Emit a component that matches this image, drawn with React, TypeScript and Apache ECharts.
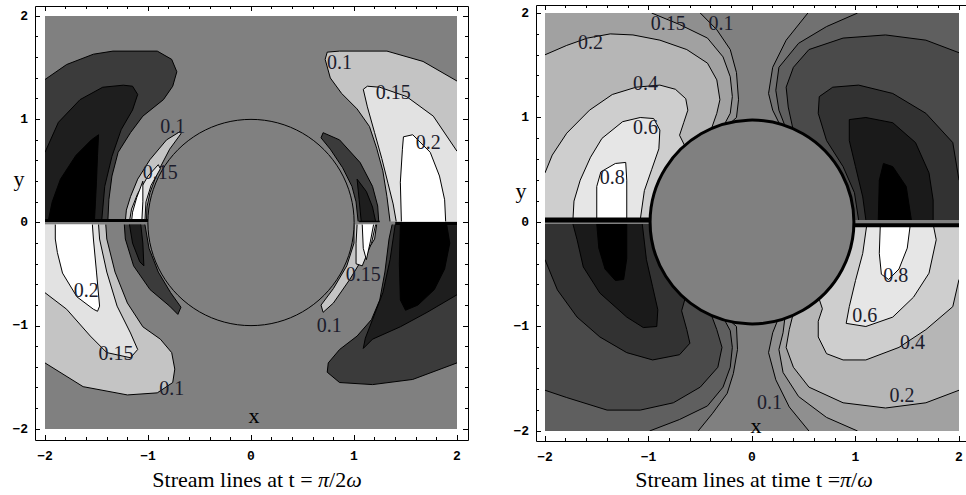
import React, { useEffect, useRef } from 'react';
import * as echarts from 'echarts';

type Pt = [number, number];

// ================= LEFT PANEL : t = pi / 2 omega =================
// regions are super-/sub-level sets (outer first, inner later)
const L_UL_m10: Pt[] = [[-2,1.385],[-1.79,1.53],[-1.53,1.63],[-1.34,1.66],[-0.91,1.66],[-0.77,1.58],[-0.72,1.46],[-0.76,1.32],[-0.85,1.19],[-1.05,1.03],[-1.17,0.87],[-1.29,0.68],[-1.35,0.45],[-1.38,0.22],[-1.39,0.01],[-2,0.01]];
const L_UL_m15: Pt[] = [[-2,0.68],[-1.87,0.97],[-1.66,1.19],[-1.44,1.31],[-1.24,1.33],[-1.15,1.32],[-1.10,1.24],[-1.15,1.09],[-1.26,0.90],[-1.35,0.64],[-1.42,0.35],[-1.45,0.01],[-2,0.01]];
const L_UL_m20: Pt[] = [[-1.97,0.01],[-1.93,0.2],[-1.85,0.42],[-1.70,0.65],[-1.55,0.80],[-1.48,0.85],[-1.49,0.65],[-1.50,0.40],[-1.51,0.20],[-1.52,0.01]];
const L_ULc_p10: Pt[] = [[-0.69,0.88],[-0.82,0.80],[-0.98,0.61],[-1.10,0.42],[-1.17,0.25],[-1.21,0.12],[-1.22,0.01],[-1.015,0.01],[-1.01,0.15],[-0.98,0.29],[-0.91,0.48],[-0.79,0.71],[-0.68,0.86]];
const L_ULc_p15: Pt[] = [[-0.90,0.56],[-1.0,0.45],[-1.10,0.28],[-1.16,0.13],[-1.18,0.01],[-1.03,0.01],[-1.02,0.2],[-0.97,0.36],[-0.88,0.52]];
const L_ULc_p20: Pt[] = [[-1.05,0.40],[-1.11,0.24],[-1.15,0.1],[-1.16,0.01],[-1.06,0.01],[-1.05,0.2]];
const L_URc_m10: Pt[] = [[0.70,0.87],[0.86,0.80],[1.06,0.58],[1.18,0.35],[1.23,0.16],[1.24,0.01],[1.04,0.01],[1.02,0.2],[0.98,0.35],[0.89,0.53],[0.77,0.71],[0.68,0.82]];
const L_URc_m15: Pt[] = [[1.03,0.42],[1.12,0.30],[1.18,0.15],[1.21,0.01],[1.07,0.01],[1.05,0.22]];
const L_UR_p10: Pt[] = [[0.72,1.58],[0.74,1.65],[0.86,1.66],[1.32,1.66],[1.67,1.56],[2,1.37],[2,0.01],[1.35,0.01],[1.32,0.25],[1.28,0.50],[1.22,0.72],[1.15,0.93],[1.03,1.10],[0.88,1.25],[0.77,1.40]];
const L_UR_p15: Pt[] = [[1.09,1.29],[1.13,1.32],[1.25,1.31],[1.51,1.22],[1.77,1.03],[2,0.69],[2,0.01],[1.41,0.01],[1.38,0.18],[1.33,0.38],[1.27,0.62],[1.20,0.87],[1.13,1.12]];
const L_UR_p20: Pt[] = [[1.47,0.71],[1.48,0.83],[1.57,0.85],[1.74,0.68],[1.83,0.45],[1.88,0.22],[1.89,0.01],[1.46,0.01],[1.45,0.39]];
const L_LL_p10: Pt[] = [[-2,-0.02],[-1.41,-0.02],[-1.40,-0.16],[-1.32,-0.48],[-1.20,-0.78],[-1.05,-1.01],[-0.88,-1.13],[-0.77,-1.26],[-0.74,-1.42],[-0.76,-1.55],[-0.91,-1.65],[-1.20,-1.67],[-1.63,-1.59],[-2,-1.36]];
const L_LL_p15: Pt[] = [[-2,-0.02],[-1.48,-0.02],[-1.47,-0.16],[-1.40,-0.48],[-1.30,-0.81],[-1.17,-1.07],[-1.10,-1.23],[-1.17,-1.31],[-1.40,-1.26],[-1.56,-1.10],[-1.79,-0.84],[-2,-0.68]];
const L_LL_p20: Pt[] = [[-1.90,-0.02],[-1.54,-0.02],[-1.53,-0.16],[-1.50,-0.48],[-1.47,-0.81],[-1.49,-0.86],[-1.53,-0.84],[-1.69,-0.72],[-1.83,-0.49],[-1.88,-0.29],[-1.90,-0.16]];
const L_LLc_m10: Pt[] = [[-1.23,-0.02],[-1.22,-0.16],[-1.14,-0.42],[-0.98,-0.65],[-0.79,-0.81],[-0.71,-0.89],[-0.68,-0.82],[-0.78,-0.68],[-0.90,-0.48],[-0.99,-0.25],[-1.03,-0.02]];
const L_LLc_m15: Pt[] = [[-1.18,-0.02],[-1.15,-0.2],[-1.08,-0.38],[-1.04,-0.42],[-1.05,-0.2],[-1.07,-0.02]];
const L_LR_m10: Pt[] = [[1.37,-0.02],[2,-0.02],[2,-1.36],[1.57,-1.52],[1.18,-1.57],[0.86,-1.55],[0.74,-1.45],[0.75,-1.36],[0.86,-1.23],[1.03,-1.10],[1.17,-0.94],[1.25,-0.75],[1.30,-0.48],[1.34,-0.16]];
const L_LR_m15: Pt[] = [[1.40,-0.02],[2,-0.02],[2,-0.70],[1.71,-0.87],[1.45,-1.01],[1.18,-1.13],[1.09,-1.22],[1.11,-1.12],[1.18,-0.94],[1.28,-0.68],[1.35,-0.36]];
const L_LR_m20: Pt[] = [[1.45,-0.02],[1.90,-0.02],[1.93,-0.2],[1.88,-0.45],[1.78,-0.65],[1.62,-0.80],[1.50,-0.85],[1.45,-0.75],[1.44,-0.4]];
const L_LRc_p10: Pt[] = [[1.0,-0.02],[1.22,-0.02],[1.20,-0.16],[1.10,-0.32],[0.96,-0.55],[0.80,-0.78],[0.70,-0.87],[0.68,-0.80],[0.80,-0.64],[0.93,-0.42],[1.0,-0.2]];
const L_LRc_p15: Pt[] = [[1.03,-0.02],[1.21,-0.02],[1.17,-0.2],[1.08,-0.42],[1.02,-0.40],[1.02,-0.2]];
const L_LRc_p20: Pt[] = [[1.08,-0.02],[1.19,-0.02],[1.16,-0.18],[1.12,-0.36],[1.09,-0.25]];

const leftCircle = [0, 0, 1];
const leftCuts: [Pt, Pt][] = [[[-2, 0.02], [-1.0, 0.02]], [[1.05, 0.01], [1.25, 0.01]], [[1.40, -0.01], [2, -0.01]]];
const leftLabels: [number, number, string][] = [
  [0.86, 1.55, '0.1'], [1.38, 1.26, '0.15'], [1.72, 0.78, '0.2'],
  [-0.76, 0.93, '0.1'], [-0.88, 0.49, '0.15'],
  [-1.60, -0.65, '0.2'], [-1.31, -1.26, '0.15'], [-0.77, -1.60, '0.1'],
  [1.09, -0.50, '0.15'], [0.76, -0.99, '0.1'],
];

// ================= RIGHT PANEL : t = pi / omega =================
const R_UL_p10: Pt[] = [[-2,2],[-0.50,2],[-0.34,1.84],[-0.21,1.65],[-0.15,1.43],[-0.13,1.17],[-0.15,1.0],[-0.24,0.92],[-0.57,0.76],[-0.81,0.5],[-0.93,0.2],[-0.95,0.02],[-2,0.02]];
const R_UL_p15: Pt[] = [[-2,2],[-0.97,2],[-0.70,1.89],[-0.43,1.76],[-0.28,1.58],[-0.21,1.39],[-0.19,1.20],[-0.21,1.04],[-0.28,0.91],[-0.57,0.76],[-0.81,0.5],[-0.93,0.2],[-0.95,0.02],[-2,0.02]];
const R_UL_p20: Pt[] = [[-2,0.02],[-2,1.60],[-1.79,1.69],[-1.59,1.76],[-1.37,1.80],[-1.15,1.79],[-0.89,1.74],[-0.63,1.65],[-0.43,1.52],[-0.34,1.36],[-0.31,1.17],[-0.34,1.04],[-0.40,0.87],[-0.57,0.76],[-0.81,0.5],[-0.93,0.2],[-0.95,0.02]];
const R_UL_p40: Pt[] = [[-2,0.02],[-2,0.47],[-1.93,0.64],[-1.79,0.85],[-1.57,1.07],[-1.35,1.22],[-1.12,1.29],[-0.89,1.31],[-0.74,1.27],[-0.64,1.18],[-0.62,1.07],[-0.66,0.95],[-0.70,0.83],[-0.64,0.71],[-0.81,0.5],[-0.93,0.2],[-0.95,0.02]];
const R_UL_p60: Pt[] = [[-1.73,0.02],[-1.72,0.2],[-1.66,0.4],[-1.56,0.62],[-1.45,0.80],[-1.25,0.96],[-1.08,1.0],[-0.95,0.99],[-0.89,0.88],[-0.90,0.70],[-0.97,0.5],[-1.04,0.3],[-1.08,0.02]];
const R_UL_p80: Pt[] = [[-1.50,0.02],[-1.50,0.34],[-1.46,0.48],[-1.32,0.56],[-1.22,0.57],[-1.21,0.40],[-1.21,0.02]];
const R_UR_m10: Pt[] = [[0.54,2],[2,2],[2,0.02],[0.95,0.02],[0.93,0.2],[0.81,0.5],[0.57,0.76],[0.28,0.91],[0.20,1.07],[0.16,1.23],[0.20,1.48],[0.33,1.74]];
const R_UR_m15: Pt[] = [[1.02,2],[2,2],[2,0.02],[0.95,0.02],[0.93,0.2],[0.81,0.5],[0.57,0.76],[0.33,0.89],[0.26,1.07],[0.23,1.26],[0.26,1.48],[0.45,1.71],[0.72,1.87]];
const R_UR_m20: Pt[] = [[2,1.62],[2,0.02],[0.95,0.02],[0.93,0.2],[0.81,0.5],[0.57,0.76],[0.40,0.87],[0.35,1.10],[0.33,1.29],[0.40,1.48],[0.55,1.65],[0.88,1.76],[1.29,1.79],[1.68,1.74]];
const R_UR_m40: Pt[] = [[0.65,1.20],[0.78,1.29],[1.03,1.31],[1.36,1.23],[1.68,1.04],[1.94,0.76],[2,0.40],[2,0.02],[1.03,0.02],[0.99,0.28],[0.88,0.53],[0.72,0.78],[0.64,1.04]];
const R_UR_m60: Pt[] = [[0.94,0.98],[1.10,1.0],[1.36,0.95],[1.58,0.76],[1.71,0.47],[1.75,0.21],[1.75,0.02],[1.10,0.02],[1.07,0.24],[1.0,0.53],[0.94,0.78]];
const R_UR_m80: Pt[] = [[1.27,0.56],[1.36,0.53],[1.49,0.34],[1.54,0.02],[1.22,0.02],[1.23,0.40]];
const R_LL_m10: Pt[] = [[-2,-2],[-0.52,-2],[-0.38,-1.83],[-0.24,-1.64],[-0.18,-1.45],[-0.14,-1.22],[-0.15,-1.0],[-0.24,-0.92],[-0.57,-0.76],[-0.81,-0.5],[-0.93,-0.2],[-0.95,-0.02],[-2,-0.02]];
const R_LL_m15: Pt[] = [[-2,-2],[-0.99,-2],[-0.70,-1.89],[-0.43,-1.76],[-0.28,-1.58],[-0.21,-1.39],[-0.19,-1.20],[-0.21,-1.04],[-0.28,-0.91],[-0.57,-0.76],[-0.81,-0.5],[-0.93,-0.2],[-0.95,-0.02],[-2,-0.02]];
const R_LL_m20: Pt[] = [[-2,-0.02],[-2,-1.61],[-1.79,-1.68],[-1.40,-1.80],[-1.08,-1.80],[-0.76,-1.73],[-0.50,-1.58],[-0.33,-1.39],[-0.29,-1.20],[-0.34,-1.03],[-0.40,-0.87],[-0.57,-0.76],[-0.81,-0.5],[-0.93,-0.2],[-0.95,-0.02]];
const R_LL_m40: Pt[] = [[-2,-0.02],[-2,-0.36],[-1.88,-0.65],[-1.69,-0.91],[-1.47,-1.10],[-1.21,-1.25],[-0.96,-1.32],[-0.70,-1.27],[-0.60,-1.16],[-0.63,-1.03],[-0.68,-0.85],[-0.64,-0.71],[-0.81,-0.5],[-0.93,-0.2],[-0.95,-0.02]];
const R_LL_m60: Pt[] = [[-1.73,-0.02],[-1.69,-0.17],[-1.63,-0.43],[-1.47,-0.68],[-1.21,-0.91],[-1.05,-1.01],[-0.92,-1.0],[-0.91,-0.84],[-0.96,-0.62],[-1.02,-0.36],[-1.06,-0.02]];
const R_LL_m80: Pt[] = [[-1.50,-0.02],[-1.48,-0.25],[-1.42,-0.45],[-1.32,-0.56],[-1.24,-0.55],[-1.21,-0.35],[-1.21,-0.02]];
const R_LR_p10: Pt[] = [[0.55,-2],[2,-2],[2,-0.02],[0.95,-0.02],[0.93,-0.2],[0.81,-0.5],[0.57,-0.76],[0.26,-0.91],[0.20,-1.06],[0.16,-1.25],[0.23,-1.51],[0.36,-1.77]];
const R_LR_p15: Pt[] = [[1.02,-2],[2,-2],[2,-0.02],[0.95,-0.02],[0.93,-0.2],[0.81,-0.5],[0.57,-0.76],[0.32,-0.90],[0.30,-1.06],[0.26,-1.22],[0.30,-1.44],[0.45,-1.67],[0.72,-1.87]];
const R_LR_p20: Pt[] = [[2,-1.61],[2,-0.02],[0.95,-0.02],[0.93,-0.2],[0.81,-0.5],[0.57,-0.76],[0.40,-0.87],[0.36,-1.03],[0.33,-1.20],[0.40,-1.39],[0.55,-1.58],[0.88,-1.73],[1.29,-1.78],[1.68,-1.73]];
const R_LR_p40: Pt[] = [[2,-0.02],[2,-0.55],[1.94,-0.81],[1.68,-1.03],[1.42,-1.20],[1.10,-1.32],[0.88,-1.32],[0.72,-1.26],[0.64,-1.10],[0.64,-0.95],[0.68,-0.83],[0.64,-0.71],[0.81,-0.5],[0.93,-0.2],[0.95,-0.02]];
const R_LR_p60: Pt[] = [[1.11,-0.02],[1.75,-0.02],[1.78,-0.17],[1.71,-0.49],[1.56,-0.72],[1.36,-0.91],[1.10,-1.0],[0.91,-0.97],[0.94,-0.81],[1.0,-0.56],[1.07,-0.30]];
const R_LR_p80: Pt[] = [[1.24,-0.02],[1.53,-0.02],[1.50,-0.25],[1.42,-0.45],[1.32,-0.55],[1.25,-0.50],[1.23,-0.30]];

const rightCircle = [0, 0, 0.98];
const rightCuts: [Pt, Pt][] = [[[-2, 0.02], [-0.96, 0.02]], [[0.98, -0.03], [2, -0.03]]];
const rightLabels: [number, number, string][] = [
  [-1.56, 1.72, '0.2'], [-0.81, 1.90, '0.15'], [-0.30, 1.90, '0.1'],
  [-1.03, 1.33, '0.4'], [-1.03, 0.91, '0.6'], [-1.35, 0.43, '0.8'],
  [1.39, -0.51, '0.8'], [1.09, -0.89, '0.6'], [1.55, -1.15, '0.4'],
  [1.45, -1.66, '0.2'], [0.17, -1.72, '0.1'],
];

// ================= styles =================
const LS = { m10: '#3b3b3b', m15: '#1e1e1e', m20: '#000000', p10: '#c4c4c4', p15: '#e2e2e2', p20: '#ffffff' };
const RS = {
  p10: '#8f8f8f', p15: '#a1a1a1', p20: '#b6b6b6', p40: '#cecece', p60: '#e6e6e6', p80: '#ffffff',
  m10: '#717171', m15: '#5f5f5f', m20: '#4a4a4a', m40: '#323232', m60: '#1a1a1a', m80: '#000000',
};
const BG = '#808080';

const leftRegions: [Pt[], string][] = [
  [L_UL_m10, LS.m10], [L_UL_m15, LS.m15], [L_UL_m20, LS.m20],
  [L_ULc_p10, LS.p10], [L_ULc_p15, LS.p15], [L_ULc_p20, LS.p20],
  [L_URc_m10, LS.m10], [L_URc_m15, LS.m15],
  [L_UR_p10, LS.p10], [L_UR_p15, LS.p15], [L_UR_p20, LS.p20],
  [L_LL_p10, LS.p10], [L_LL_p15, LS.p15], [L_LL_p20, LS.p20],
  [L_LLc_m10, LS.m10], [L_LLc_m15, LS.m15],
  [L_LR_m10, LS.m10], [L_LR_m15, LS.m15], [L_LR_m20, LS.m20],
  [L_LRc_p10, LS.p10], [L_LRc_p15, LS.p15], [L_LRc_p20, LS.p20],
];
const rightRegions: [Pt[], string][] = [
  [R_UL_p10, RS.p10], [R_UL_p15, RS.p15], [R_UL_p20, RS.p20], [R_UL_p40, RS.p40], [R_UL_p60, RS.p60], [R_UL_p80, RS.p80],
  [R_UR_m10, RS.m10], [R_UR_m15, RS.m15], [R_UR_m20, RS.m20], [R_UR_m40, RS.m40], [R_UR_m60, RS.m60], [R_UR_m80, RS.m80],
  [R_LL_m10, RS.m10], [R_LL_m15, RS.m15], [R_LL_m20, RS.m20], [R_LL_m40, RS.m40], [R_LL_m60, RS.m60], [R_LL_m80, RS.m80],
  [R_LR_p10, RS.p10], [R_LR_p15, RS.p15], [R_LR_p20, RS.p20], [R_LR_p40, RS.p40], [R_LR_p60, RS.p60], [R_LR_p80, RS.p80],
];
const leftCutWidths = [3, 1.5, 3];
const rightCutWidths = [5, 4];

const isBorderSeg = (a: Pt, b: Pt) =>
  (Math.abs(a[0]) >= 1.999 && a[0] === b[0]) ||
  (Math.abs(a[1]) >= 1.999 && a[1] === b[1]) ||
  (Math.abs(a[1]) <= 0.035 && Math.abs(b[1]) <= 0.035);

function regionSeries(ax: number, regions: [Pt[], string][]) {
  return {
    type: 'custom', xAxisIndex: ax, yAxisIndex: ax, clip: true, silent: true,
    data: regions.map(() => [0, 0]),
    renderItem: (params: any, api: any) => {
      const [pts, color] = regions[params.dataIndex];
      const px = pts.map((p) => api.coord(p));
      const children: any[] = [{ type: 'polygon', shape: { points: px }, style: { fill: color, lineWidth: 0 } }];
      const n = pts.length;
      let run: number[][] = [];
      const flush = () => {
        if (run.length > 1) children.push({ type: 'polyline', shape: { points: run }, style: { fill: 'none', stroke: '#000', lineWidth: 1 } });
        run = [];
      };
      for (let i = 0; i < n; i++) {
        const j = (i + 1) % n;
        if (isBorderSeg(pts[i], pts[j])) flush();
        else { if (!run.length) run.push(px[i]); run.push(px[j]); }
      }
      flush();
      return { type: 'group', children };
    },
  };
}

function cutSeries(ax: number, cuts: [Pt, Pt][], widths: number[]) {
  return {
    type: 'custom', xAxisIndex: ax, yAxisIndex: ax, clip: true, silent: true,
    data: cuts.map(() => [0, 0]),
    renderItem: (params: any, api: any) => {
      const [a, b] = cuts[params.dataIndex];
      const p = api.coord(a), q = api.coord(b);
      return { type: 'line', shape: { x1: p[0], y1: p[1], x2: q[0], y2: q[1] }, style: { stroke: '#000', lineWidth: widths[params.dataIndex] } };
    },
  };
}

function circleSeries(ax: number, c: number[], w: number) {
  return {
    type: 'custom', xAxisIndex: ax, yAxisIndex: ax, clip: true, silent: true,
    data: [[c[0], c[1]]],
    renderItem: (params: any, api: any) => {
      const p = api.coord([c[0], c[1]]);
      const s = api.size([c[2], c[2]]);
      return { type: 'circle', shape: { cx: p[0], cy: p[1], r: (s[0] + s[1]) / 2 }, style: { fill: BG, stroke: '#000', lineWidth: w } };
    },
  };
}

function labelSeries(ax: number, labels: [number, number, string][]) {
  return {
    type: 'custom', xAxisIndex: ax, yAxisIndex: ax, clip: false, silent: true,
    data: labels.map(() => [0, 0]),
    renderItem: (params: any, api: any) => {
      const [x, y, t] = labels[params.dataIndex];
      const p = api.coord([x, y]);
      return { type: 'text', x: p[0], y: p[1], style: { text: t, fill: '#1c1c2c', font: '20px "Liberation Serif"', align: 'center', verticalAlign: 'middle' } };
    },
  };
}

const fmt = (v: number) => (v < 0 ? '\u2212' + Math.abs(v) : String(v));
function axis(kind: 'x' | 'y', gridIndex: number, position: string, offset: number, labels: boolean) {
  return {
    type: 'value', gridIndex, position, offset, min: -2, max: 2, interval: 1,
    axisLine: { show: false, onZero: false },
    axisTick: { show: true, inside: true, length: 5, lineStyle: { color: '#000', width: 1 } },
    minorTick: { show: true, splitNumber: 5, length: 3, lineStyle: { color: '#000', width: 1 } },
    splitLine: { show: false }, minorSplitLine: { show: false },
    axisLabel: {
      show: labels, margin: kind === 'x' ? 10 : 7, formatter: fmt,
      fontFamily: 'Liberation Mono', fontWeight: 'bold', fontSize: 13, color: '#000',
    },
  };
}

const serif = '"Liberation Serif"';
function titleText(x: number, y: number, text: string) {
  return {
    type: 'text', x, y,
    style: {
      text, font: `22px ${serif}`, fill: '#000', align: 'center', verticalAlign: 'middle',
      textAlign: 'center', textVerticalAlign: 'middle',
      rich: { i: { fontStyle: 'italic', fontFamily: 'Liberation Serif', fontSize: 22, fill: '#000' } },
    },
  };
}

const option: any = {
  animation: false,
  backgroundColor: '#ffffff',
  grid: [
    { left: 45, top: 16, width: 412, height: 413, show: true, backgroundColor: BG, borderWidth: 0 },
    { left: 545, top: 13, width: 414, height: 418, show: true, backgroundColor: BG, borderWidth: 0 },
  ],
  xAxis: [
    axis('x', 0, 'bottom', 11, true), axis('x', 0, 'top', 10, false),
    axis('x', 1, 'bottom', 10, true), axis('x', 1, 'top', 8, false),
  ],
  yAxis: [
    axis('y', 0, 'left', 10, true), axis('y', 0, 'right', 11, false),
    axis('y', 1, 'left', 9, true), axis('y', 1, 'right', 12, false),
  ],
  series: [
    regionSeries(0, leftRegions), cutSeries(0, leftCuts, leftCutWidths), circleSeries(0, leftCircle, 1), labelSeries(0, leftLabels),
    regionSeries(2, rightRegions), cutSeries(2, rightCuts, rightCutWidths), circleSeries(2, rightCircle, 3), labelSeries(2, rightLabels),
  ],
  graphic: [
    { type: 'rect', shape: { x: 35.5, y: 6.5, width: 433, height: 434 }, style: { fill: 'none', stroke: '#000', lineWidth: 1 }, silent: true },
    { type: 'rect', shape: { x: 536.5, y: 5.5, width: 435, height: 436 }, style: { fill: 'none', stroke: '#000', lineWidth: 1 }, silent: true },
    titleText(257, 479, 'Stream lines at t = {i|\u03c0}/2{i|\u03c9}'),
    titleText(754, 479, 'Stream lines at time t ={i|\u03c0}/{i|\u03c9}'),
    titleText(19, 178, 'y'),
    titleText(521, 190, 'y'),
    titleText(254, 415, 'x'),
    titleText(756, 425, 'x'),
  ],
};

export default function App() {
  const ref = useRef<HTMLDivElement>(null);
  useEffect(() => {
    const chart = echarts.init(ref.current!, undefined, { renderer: 'svg' });
    chart.setOption(option);
    return () => chart.dispose();
  }, []);
  return <div ref={ref} style={{ position: 'absolute', left: 0, top: 0, width: 966, height: 495, background: '#fff' }} />;
}
